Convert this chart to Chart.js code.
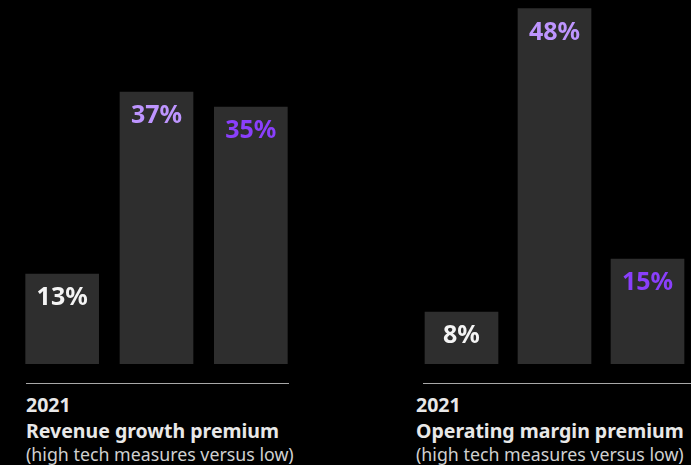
<!DOCTYPE html>
<html>
<head>
<meta charset="utf-8">
<script src="https://cdn.jsdelivr.net/npm/chart.js@4"></script>
<style>
  html, body { margin: 0; padding: 0; background: #000; overflow: hidden; }
  body { width: 691px; height: 465px; position: relative; font-family: "Noto Sans", sans-serif; }
  canvas { position: absolute; top: 0; }
  #revenueChart { left: 15px; }
  #marginChart { left: 415px; }
  .rule { position: absolute; top: 383px; height: 1px; background: #a8a8a8; }
  .caption { position: absolute; color: #e8e8e8; white-space: nowrap; }
  .caption .year, .caption .title { font-weight: bold; font-size: 19.5px; line-height: 26px; }
  .caption .sub { font-size: 17.8px; line-height: 22px; color: #d0d0d0; margin-top: -1px; }
</style>
</head>
<body>
<canvas id="revenueChart" width="283" height="364"></canvas>
<canvas id="marginChart" width="279" height="364"></canvas>

<div class="rule" style="left:26px; width:263px;"></div>
<div class="rule" style="left:423px; width:268px;"></div>

<div class="caption" style="left:26px; top:392px;">
  <div class="year">2021</div>
  <div class="title">Revenue growth premium</div>
  <div class="sub">(high tech measures versus low)</div>
</div>
<div class="caption" style="left:416px; top:392px;">
  <div class="year">2021</div>
  <div class="title">Operating margin premium</div>
  <div class="sub">(high tech measures versus low)</div>
</div>

<script>
// data
var categories = ['Low tech', 'High tech', 'Premium'];
var revenueValues = [13, 37, 35];
var marginValues = [8, 48, 15];
var labelColors = ['#f4f4f4', '#be95ff', '#8a3ffc'];

// draws "xx%" near the top of each bar
var valueLabels = {
  id: 'valueLabels',
  afterDatasetsDraw: function(chart) {
    var ctx = chart.ctx;
    var meta = chart.getDatasetMeta(0);
    var values = chart.data.datasets[0].data;
    ctx.save();
    ctx.font = 'bold 25px "Noto Sans"';
    ctx.textAlign = 'center';
    ctx.textBaseline = 'alphabetic';
    meta.data.forEach(function(bar, i) {
      ctx.fillStyle = labelColors[i];
      ctx.fillText(values[i] + '%', bar.x, bar.y + 31);
    });
    ctx.restore();
  }
};

function makeChart(id, values) {
  return new Chart(document.getElementById(id), {
    type: 'bar',
    data: {
      labels: categories,
      datasets: [{
        data: values,
        backgroundColor: '#2e2e2e',
        borderWidth: 0,
        barThickness: 73
      }]
    },
    options: {
      responsive: false,
      animation: false,
      layout: { padding: 0 },
      plugins: {
        legend: { display: false },
        tooltip: { enabled: false }
      },
      scales: {
        x: { display: false },
        y: { display: false, min: 1.17, max: 49.12 }
      }
    },
    plugins: [valueLabels]
  });
}

makeChart('revenueChart', revenueValues);
makeChart('marginChart', marginValues);
</script>
</body>
</html>
